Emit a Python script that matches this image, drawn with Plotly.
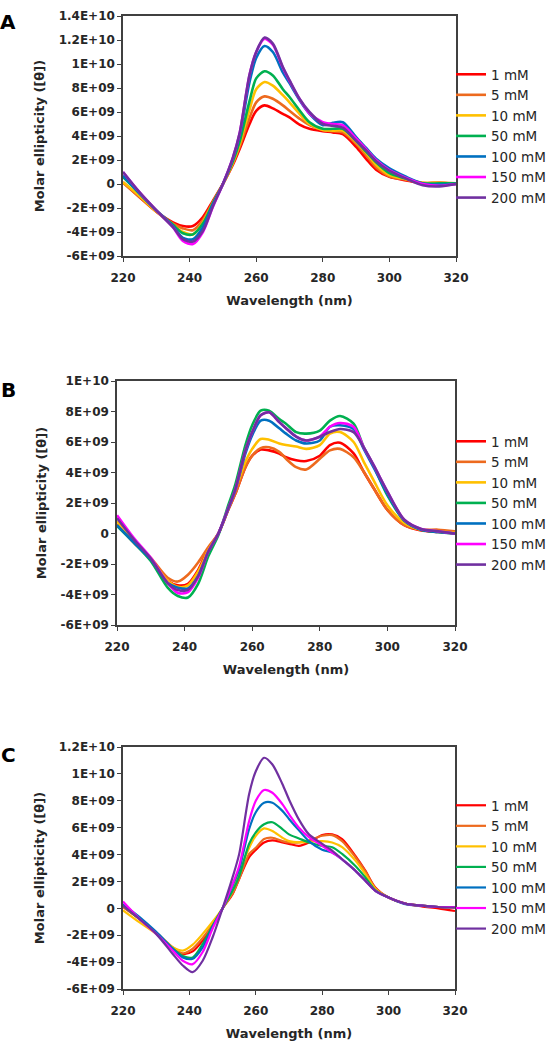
import plotly.graph_objects as go

# ---------------- data (molar ellipticity, units of 1E+09) ----------------
wavelength = [220, 225, 230, 235, 238, 241, 244, 247, 250, 253, 255, 258, 260, 262.5,
              265, 268, 270, 273, 276, 280, 283, 286, 290, 293, 296, 300, 305, 310, 315, 320]

series_names = ["1 mM", "5 mM", "10 mM", "50 mM", "100 mM", "150 mM", "200 mM"]
series_colors = ["#FF0000", "#ED6A1E", "#FFC000", "#00B050", "#0070C0", "#FF00FF", "#7030A0"]

A_1mM   = [0.15, -1.1, -2.3, -3.2, -3.5, -3.5, -2.75, -1.4, 0.0, 1.6, 2.9, 5.0, 6.1, 6.55, 6.3, 5.85, 5.55, 4.95, 4.6, 4.4, 4.3, 4.15, 3.1, 2.1, 1.2, 0.6, 0.3, 0.05, 0.1, 0.0]
A_5mM   = [0.1, -1.1, -2.3, -3.3, -3.7, -3.85, -3.0, -1.5, 0.0, 1.7, 3.1, 5.5, 6.8, 7.3, 7.1, 6.55, 6.1, 5.45, 4.9, 4.5, 4.4, 4.3, 3.35, 2.4, 1.4, 0.65, 0.35, 0.1, 0.1, 0.05]
A_10mM  = [0.15, -1.0, -2.3, -3.4, -4.0, -4.2, -3.2, -1.6, 0.0, 1.8, 3.3, 6.2, 7.9, 8.5, 8.2, 7.4, 6.8, 5.85, 5.0, 4.5, 4.45, 4.45, 3.5, 2.6, 1.6, 0.75, 0.4, 0.1, 0.1, 0.05]
A_50mM  = [0.6, -0.8, -2.2, -3.4, -4.1, -4.2, -3.3, -1.6, 0.0, 1.9, 3.5, 6.9, 8.8, 9.4, 9.05, 7.9, 7.25, 6.15, 5.15, 4.6, 4.6, 4.6, 3.6, 2.7, 1.8, 0.9, 0.45, 0.05, 0.05, 0.05]
A_100mM = [0.7, -0.8, -2.2, -3.5, -4.5, -4.6, -3.6, -1.7, 0.0, 2.1, 4.0, 8.5, 10.5, 11.5, 11.0, 9.3, 8.4, 7.0, 5.85, 4.9, 5.1, 5.15, 3.9, 3.0, 2.1, 1.3, 0.6, 0.05, -0.05, 0.0]
A_150mM = [1.0, -0.7, -2.2, -3.6, -4.75, -5.0, -4.0, -1.9, 0.0, 2.2, 4.2, 9.1, 11.0, 12.1, 11.6, 9.7, 8.6, 7.1, 5.9, 5.15, 5.0, 4.9, 3.8, 2.9, 2.0, 1.15, 0.5, 0.0, -0.15, 0.0]
A_200mM = [1.0, -0.7, -2.2, -3.6, -4.6, -4.8, -3.9, -1.85, 0.0, 2.2, 4.2, 9.1, 11.0, 12.2, 11.7, 9.75, 8.65, 7.1, 6.0, 5.0, 4.85, 4.7, 3.6, 2.8, 1.9, 1.1, 0.45, -0.1, -0.2, 0.0]

B_1mM   = [0.6, -0.6, -1.7, -3.1, -3.4, -3.3, -2.4, -1.0, 0.0, 1.6, 2.6, 4.35, 5.1, 5.5, 5.45, 5.25, 5.0, 4.8, 4.75, 5.1, 5.8, 5.95, 5.25, 4.05, 2.95, 1.55, 0.55, 0.2, 0.1, 0.0]
B_5mM   = [0.6, -0.6, -1.6, -2.9, -3.15, -2.7, -1.9, -0.9, 0.0, 1.6, 2.6, 4.35, 5.1, 5.6, 5.65, 5.35, 4.9, 4.35, 4.2, 4.9, 5.45, 5.55, 5.0, 4.05, 2.95, 1.55, 0.55, 0.25, 0.25, 0.15]
B_10mM  = [0.8, -0.5, -1.7, -3.1, -3.5, -3.4, -2.5, -1.1, 0.0, 1.65, 2.85, 4.7, 5.55, 6.2, 6.15, 5.9, 5.8, 5.7, 5.55, 5.8, 6.55, 6.65, 6.0, 4.7, 3.45, 1.85, 0.7, 0.25, 0.15, 0.05]
B_50mM  = [0.5, -0.6, -1.8, -3.55, -4.1, -4.2, -3.3, -1.5, -0.1, 1.9, 3.2, 5.8, 7.1, 8.05, 8.05, 7.5, 7.2, 6.65, 6.55, 6.75, 7.4, 7.7, 7.2, 5.65, 4.4, 2.5, 0.85, 0.25, 0.1, 0.0]
B_100mM = [0.55, -0.6, -1.7, -3.25, -3.55, -3.6, -2.8, -1.2, 0.0, 1.65, 2.85, 5.25, 6.45, 7.4, 7.4, 6.9, 6.55, 6.1, 5.9, 6.1, 7.0, 7.1, 6.85, 5.55, 4.3, 2.6, 0.85, 0.25, 0.1, 0.0]
B_150mM = [1.2, -0.3, -1.6, -3.25, -3.9, -3.85, -2.9, -1.2, 0.0, 1.7, 2.9, 5.45, 6.65, 7.75, 7.95, 7.3, 6.9, 6.35, 6.1, 6.35, 7.0, 7.25, 7.0, 5.65, 4.45, 2.75, 0.9, 0.3, 0.15, 0.0]
B_200mM = [1.0, -0.4, -1.65, -3.25, -3.7, -3.7, -2.8, -1.2, 0.0, 1.7, 2.9, 5.45, 6.65, 7.75, 7.95, 7.3, 6.9, 6.35, 6.1, 6.35, 6.65, 6.85, 6.65, 5.65, 4.45, 2.75, 0.9, 0.3, 0.15, 0.0]

C_1mM   = [0.1, -0.8, -1.8, -3.0, -3.4, -3.2, -2.4, -1.3, 0.0, 1.05, 2.2, 3.8, 4.35, 4.9, 5.05, 4.9, 4.8, 4.65, 4.9, 5.45, 5.5, 5.15, 3.9, 2.8, 1.55, 0.8, 0.35, 0.15, 0.0, -0.2]
C_5mM   = [0.1, -0.8, -1.8, -2.9, -3.35, -3.0, -2.2, -1.2, 0.0, 1.1, 2.2, 4.05, 4.5, 5.15, 5.25, 5.0, 4.9, 4.9, 5.05, 5.4, 5.45, 5.0, 3.8, 2.75, 1.5, 0.8, 0.35, 0.2, 0.1, 0.05]
C_10mM  = [-0.15, -1.05, -1.9, -2.9, -3.15, -2.7, -1.9, -1.0, 0.0, 1.3, 2.65, 4.5, 5.4, 5.95, 5.75, 5.25, 5.0, 4.9, 4.95, 5.0, 4.9, 4.55, 3.55, 2.55, 1.45, 0.8, 0.35, 0.2, 0.1, 0.1]
C_50mM  = [0.2, -0.8, -1.8, -3.0, -3.55, -3.65, -2.65, -1.3, 0.0, 1.3, 2.4, 4.8, 5.65, 6.25, 6.4, 5.9, 5.5, 5.2, 4.9, 4.65, 4.55, 4.05, 3.15, 2.3, 1.35, 0.8, 0.35, 0.2, 0.1, 0.1]
C_100mM = [0.3, -0.65, -1.75, -3.0, -3.65, -3.75, -2.9, -1.35, 0.0, 1.7, 2.9, 5.9, 7.15, 7.85, 7.85, 7.25, 6.65, 5.8, 5.0, 4.35, 4.15, 3.65, 2.8, 2.05, 1.3, 0.8, 0.3, 0.2, 0.1, 0.1]
C_150mM = [0.5, -0.8, -1.9, -3.15, -3.9, -4.15, -3.25, -1.5, 0.0, 1.8, 3.15, 6.5, 8.0, 8.8, 8.6, 7.75, 7.0, 6.0, 5.3, 4.65, 4.15, 3.65, 2.8, 2.05, 1.3, 0.8, 0.35, 0.2, 0.1, 0.1]
C_200mM = [0.2, -0.8, -1.9, -3.4, -4.25, -4.75, -3.9, -2.15, 0.0, 2.3, 4.05, 8.5, 10.2, 11.2, 10.7, 9.25, 8.1, 6.6, 5.5, 4.8, 4.3, 3.65, 2.8, 2.05, 1.3, 0.8, 0.35, 0.2, 0.1, 0.05]

UNIT = 1e9

x_tickvals = [220, 240, 260, 280, 300, 320]
A_tickvals = [-6e9, -4e9, -2e9, 0, 2e9, 4e9, 6e9, 8e9, 1e10, 1.2e10, 1.4e10]
A_ticktext = ["-6E+09", "-4E+09", "-2E+09", "0", "2E+09", "4E+09", "6E+09", "8E+09", "1E+10", "1.2E+10", "1.4E+10"]
B_tickvals = [-6e9, -4e9, -2e9, 0, 2e9, 4e9, 6e9, 8e9, 1e10]
B_ticktext = ["-6E+09", "-4E+09", "-2E+09", "0", "2E+09", "4E+09", "6E+09", "8E+09", "1E+10"]
C_tickvals = [-6e9, -4e9, -2e9, 0, 2e9, 4e9, 6e9, 8e9, 1e10, 1.2e10]
C_ticktext = ["-6E+09", "-4E+09", "-2E+09", "0", "2E+09", "4E+09", "6E+09", "8E+09", "1E+10", "1.2E+10"]

x_title = "Wavelength (nm)"
y_title = "Molar ellipticity ([θ])"

# ---------------- layout geometry (pixels) ----------------
W, H = 553, 1050
FONT = "DejaVu Sans"
AXC = "#404040"
TXT = "#262626"

panels = [
    dict(label="A", series=[A_1mM, A_5mM, A_10mM, A_50mM, A_100mM, A_150mM, A_200mM],
         px=(123, 456), py=(16, 256), yr=(-6e9, 1.4e10), tv=A_tickvals, tt=A_ticktext,
         leg=(451, 59), lab=(8, 22)),
    dict(label="B", series=[B_1mM, B_5mM, B_10mM, B_50mM, B_100mM, B_150mM, B_200mM],
         px=(117, 455), py=(381, 625), yr=(-6e9, 1e10), tv=B_tickvals, tt=B_ticktext,
         leg=(451, 426), lab=(8, 390)),
    dict(label="C", series=[C_1mM, C_5mM, C_10mM, C_50mM, C_100mM, C_150mM, C_200mM],
         px=(123, 455), py=(747, 989), yr=(-6e9, 1.2e10), tv=C_tickvals, tt=C_ticktext,
         leg=(451, 790), lab=(8, 755)),
]

fig = go.Figure()
layout = dict(width=W, height=H, margin=dict(l=0, r=0, t=0, b=0, autoexpand=False),
              paper_bgcolor="white", plot_bgcolor="white",
              font=dict(family=FONT, color=TXT), annotations=[])

for i, p in enumerate(panels):
    n = "" if i == 0 else str(i + 1)
    lw = 2.6 if i < 2 else 2.2
    for name, col, vals in zip(series_names, series_colors, p["series"]):
        fig.add_trace(go.Scatter(
            x=wavelength, y=[v * UNIT for v in vals], name=name, mode="lines",
            line=dict(color=col, width=lw, shape="spline", smoothing=0.8),
            xaxis="x" + n, yaxis="y" + n, legend="legend" + n))
    axis_common = dict(showline=True, linecolor=AXC, linewidth=1.5, mirror=True,
                       ticks="outside", ticklen=4, tickcolor=AXC, tickwidth=1.2,
                       showgrid=False, zeroline=False, automargin=False,
                       tickfont=dict(family=FONT, size=12, color=TXT, weight="bold"))
    layout["xaxis" + n] = dict(axis_common, domain=[p["px"][0] / W, p["px"][1] / W],
                               range=[220, 320], tickvals=x_tickvals, anchor="y" + n,
                               ticklabelstandoff=6,
                               title=dict(text=x_title, standoff=12,
                                          font=dict(family=FONT, size=13, color=TXT, weight="bold")))
    layout["yaxis" + n] = dict(axis_common, domain=[1 - p["py"][1] / H, 1 - p["py"][0] / H],
                               range=list(p["yr"]), tickvals=p["tv"], ticktext=p["tt"],
                               anchor="x" + n,
                               title=dict(text=y_title, standoff=11,
                                          font=dict(family=FONT, size=13, color=TXT, weight="bold")))
    layout["legend" + n] = dict(x=p["leg"][0] / W, y=1 - p["leg"][1] / H, xanchor="left", yanchor="top",
                                bgcolor="rgba(0,0,0,0)", font=dict(family=FONT, size=13.5, color=TXT),
                                itemwidth=30, tracegroupgap=0)
    layout["annotations"].append(dict(text="<b>%s</b>" % p["label"], x=p["lab"][0] / W, y=1 - p["lab"][1] / H,
                                      xref="paper", yref="paper", showarrow=False,
                                      xanchor="center", yanchor="middle",
                                      font=dict(family=FONT, size=20, color="black")))

fig.update_layout(**layout)
fig.write_html("out.html", config={"displayModeBar": False},
               post_script="document.body.style.margin='0';")
